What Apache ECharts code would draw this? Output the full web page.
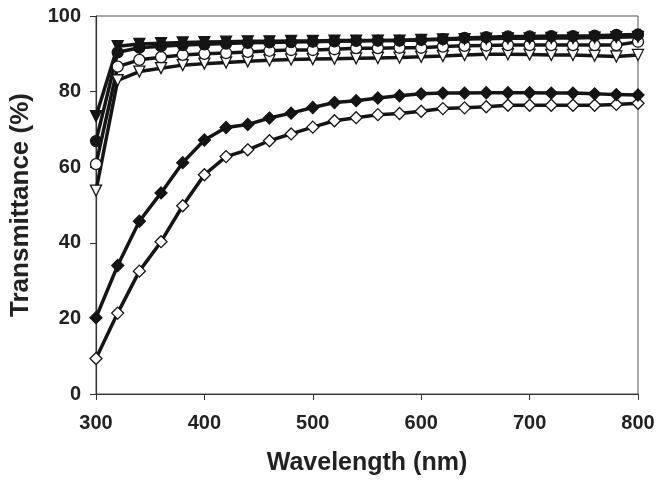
<!DOCTYPE html>
<html>
<head>
<meta charset="utf-8">
<script src="https://cdn.jsdelivr.net/npm/echarts@6/dist/echarts.min.js"></script>
<style>html,body{margin:0;padding:0;background:#fff}#chart{width:664px;height:485px}</style>
</head>
<body>
<div id="chart"></div>
<script>
const wavelengths = [300,320,340,360,380,400,420,440,460,480,500,520,540,560,580,600,620,640,660,680,700,720,740,760,780,800];
const filledTriangle = [73.5,92.0,92.6,92.8,93.0,93.1,93.2,93.3,93.3,93.4,93.4,93.5,93.5,93.5,93.5,93.7,93.8,93.9,94.0,94.1,94.1,94.2,94.2,94.3,94.4,94.5];
const filledCircle = [66.9,90.4,91.6,92.0,92.3,92.5,92.7,92.9,93.0,93.1,93.2,93.3,93.4,93.5,93.5,93.7,93.9,94.2,94.4,94.6,94.6,94.7,94.7,94.8,95.0,95.1];
const openCircle = [60.8,86.6,88.4,89.1,89.7,90.0,90.2,90.5,90.8,91.0,91.0,91.2,91.5,91.5,91.6,91.6,91.9,92.1,92.2,92.3,92.3,92.3,92.3,92.3,92.3,93.2];
const openTriangle = [53.8,83.0,85.3,86.2,87.0,87.4,87.7,88.0,88.3,88.5,88.6,88.7,88.8,88.9,89.0,89.2,89.4,89.7,89.9,89.9,89.8,89.7,89.7,89.5,89.3,89.7];
const filledDiamond = [20.2,34.0,45.7,53.2,61.2,67.2,70.5,71.3,73.0,74.3,75.8,77.1,77.6,78.3,78.9,79.4,79.6,79.6,79.7,79.7,79.7,79.6,79.6,79.4,79.2,79.1];
const openDiamond = [9.4,21.4,32.5,40.3,49.8,58.0,62.8,64.6,67.0,68.8,70.6,72.3,73.1,73.9,74.2,74.8,75.5,75.7,76.0,76.4,76.4,76.4,76.4,76.4,76.6,76.9];
const xTicks = [300,400,500,600,700,800];
const yTicks = [0,20,40,60,80,100];

function pairs(arr){ return wavelengths.map((w,i)=>[w,arr[i]]); }
function mk(name, data, symbol, filled, size, rotate){
  return {
    name, type:'line', data: pairs(data), symbol, symbolSize: size, symbolRotate: rotate||0,
    lineStyle:{color:'#151515', width:3.5},
    itemStyle:{color: filled ? '#151515' : '#ffffff', borderColor:'#151515', borderWidth: 1.3},
    showAllSymbol:true, animation:false
  };
}
const FONT = 'Liberation Sans, Arial, sans-serif';
const chart = echarts.init(document.getElementById('chart'), null, {renderer:'canvas'});
chart.setOption({
  backgroundColor:'#fff',
  animation:false,
  grid:{left:96, right:26, top:16, bottom:91, show:true, borderColor:'#555', borderWidth:1},
  xAxis:{
    type:'value', min:xTicks[0], max:xTicks[xTicks.length-1], interval:100,
    name:'Wavelength (nm)', nameLocation:'middle', nameGap:57,
    nameTextStyle:{fontFamily:FONT, fontWeight:'bold', fontSize:25, color:'#222'},
    axisLine:{lineStyle:{color:'#333', width:1.2}},
    axisTick:{show:true, inside:false, length:6, lineStyle:{color:'#333'}},
    axisLabel:{fontFamily:FONT, fontWeight:'bold', fontSize:20, color:'#222', margin:19},
    splitLine:{show:false}
  },
  yAxis:{
    type:'value', min:yTicks[0], max:yTicks[yTicks.length-1], interval:20,
    name:'Transmittance (%)', nameLocation:'middle', nameGap:62,
    nameTextStyle:{fontFamily:FONT, fontWeight:'bold', fontSize:26, color:'#222'},
    axisLine:{show:true, lineStyle:{color:'#333', width:1.2}},
    axisTick:{show:true, inside:false, length:6, lineStyle:{color:'#333'}},
    axisLabel:{fontFamily:FONT, fontWeight:'bold', fontSize:20, color:'#222', margin:15},
    splitLine:{show:false}
  },
  series:[
    mk('openDiamond', openDiamond, 'diamond', false, 12),
    mk('filledDiamond', filledDiamond, 'diamond', true, 12),
    mk('openTriangle', openTriangle, 'triangle', false, 11, 180),
    mk('openCircle', openCircle, 'circle', false, 11),
    mk('filledCircle', filledCircle, 'circle', true, 11),
    mk('filledTriangle', filledTriangle, 'triangle', true, 11, 180)
  ]
});
</script>
</body>
</html>
